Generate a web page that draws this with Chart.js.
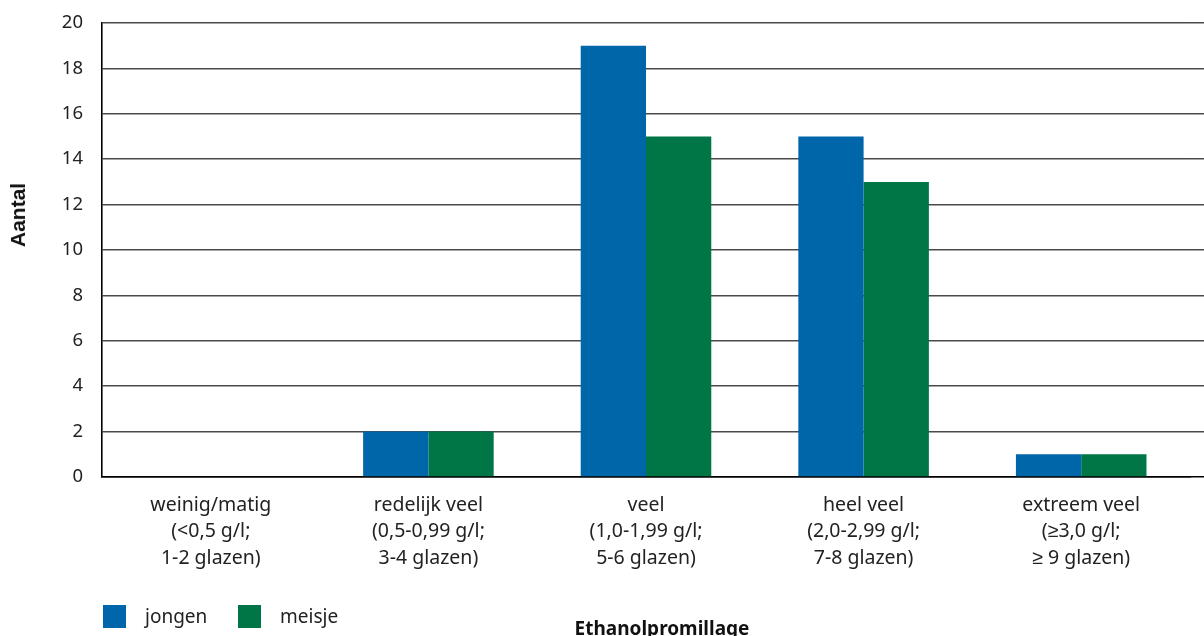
<!DOCTYPE html>
<html>
<head>
<meta charset="utf-8">
<script src="https://cdn.jsdelivr.net/npm/chart.js@4"></script>
<style>
  html, body { margin: 0; padding: 0; background: #fff; overflow: hidden; }
  #wrap { position: relative; width: 1204px; height: 636px; }
  #chart { position: absolute; left: 0; top: 0; }
  .ytitle {
    position: absolute; left: 18px; top: 215px;
    transform: translate(-50%, -50%) rotate(-90deg);
    font: bold 21px "Liberation Sans", Arial, sans-serif; color: #111; white-space: nowrap;
  }
  .xtitle {
    position: absolute; left: 662px; top: 617px; transform: translateX(-50%);
    font: bold 19px "Noto Sans", sans-serif; color: #111; white-space: nowrap; line-height: 22px;
  }
  .legend { position: absolute; top: 605px; left: 103px; font: 19px "Noto Sans", sans-serif; color: #222; }
  .legend .item { position: absolute; top: 0; white-space: nowrap; }
  .legend .box { position: absolute; top: 0; left: 0; width: 23px; height: 23px; }
  .legend .lbl { position: absolute; top: -2px; left: 42px; line-height: 26px; }
</style>
</head>
<body>
<div id="wrap">
  <canvas id="chart" width="1204" height="636"></canvas>
  <div class="ytitle">Aantal</div>
  <div class="xtitle">Ethanolpromillage</div>
  <div class="legend" id="legend"></div>
</div>
<script>
// Categories (alcohol level groups), one label line per array entry
const categories = [
  ["weinig/matig", "(<0,5 g/l;", "1-2 glazen)"],
  ["redelijk veel", "(0,5-0,99 g/l;", "3-4 glazen)"],
  ["veel", "(1,0-1,99 g/l;", "5-6 glazen)"],
  ["heel veel", "(2,0-2,99 g/l;", "7-8 glazen)"],
  ["extreem veel", "(≥3,0 g/l;", "≥ 9 glazen)"]
];
const seriesNames = ["jongen", "meisje"];
const jongen = [0, 2, 19, 15, 1];
const meisje = [0, 2, 15, 13, 1];
const seriesColors = ["#0066aa", "#007545"];
const yTicks = [0, 2, 4, 6, 8, 10, 12, 14, 16, 18, 20];

const font = { family: "'Noto Sans', sans-serif", size: 19.5 };
const gridColor = "#4a4a4a";

new Chart(document.getElementById("chart"), {
  type: "bar",
  data: {
    labels: categories,
    datasets: [
      { label: seriesNames[0], data: jongen, backgroundColor: seriesColors[0] },
      { label: seriesNames[1], data: meisje, backgroundColor: seriesColors[1] }
    ]
  },
  options: {
    responsive: false,
    animation: false,
    events: [],
    layout: { padding: { top: 23, left: 0, right: 0, bottom: 0 } },
    plugins: { legend: { display: false }, tooltip: { enabled: false } },
    datasets: { bar: { categoryPercentage: 0.6, barPercentage: 1.0 } },
    scales: {
      x: {
        grid: { display: false, drawTicks: false },
        border: { display: true, color: "#000", width: 1.6 },
        ticks: { color: "#222", font: { ...font, lineHeight: 1.36 }, padding: 15, maxRotation: 0, autoSkip: false },
        afterFit: (s) => { s.height = 159; }
      },
      y: {
        min: yTicks[0],
        max: yTicks[yTicks.length - 1],
        afterBuildTicks: (s) => { s.ticks = yTicks.map(v => ({ value: v })); },
        grid: {
          drawTicks: true,
          tickLength: 17,
          tickColor: "rgba(0,0,0,0)",
          color: (c) => c.index === 0 ? "#000" : gridColor,
          lineWidth: 1.5
        },
        border: { display: true, color: "#000", width: 1.6 },
        ticks: { color: "#222", font: { ...font, size: 18.5 }, padding: 2 },
        afterFit: (s) => { s.width = 102; }
      },
      // right-hand stub so the horizontal rules run past the last group
      y2: {
        position: "right",
        min: yTicks[0],
        max: yTicks[yTicks.length - 1],
        afterBuildTicks: (s) => { s.ticks = yTicks.map(v => ({ value: v })); },
        grid: {
          drawOnChartArea: false,
          drawTicks: true,
          tickLength: 14,
          color: (c) => c.index === 0 ? "#000" : gridColor,
          lineWidth: 1.5
        },
        border: { display: false },
        ticks: { display: false }
      }
    }
  }
});

// Legend
const legend = document.getElementById("legend");
const legendOffsets = [0, 135];
seriesNames.forEach((name, i) => {
  const item = document.createElement("div");
  item.className = "item";
  item.style.left = legendOffsets[i] + "px";
  item.innerHTML = '<div class="box" style="background:' + seriesColors[i] + '"></div><div class="lbl">' + name + '</div>';
  legend.appendChild(item);
});
</script>
</body>
</html>
